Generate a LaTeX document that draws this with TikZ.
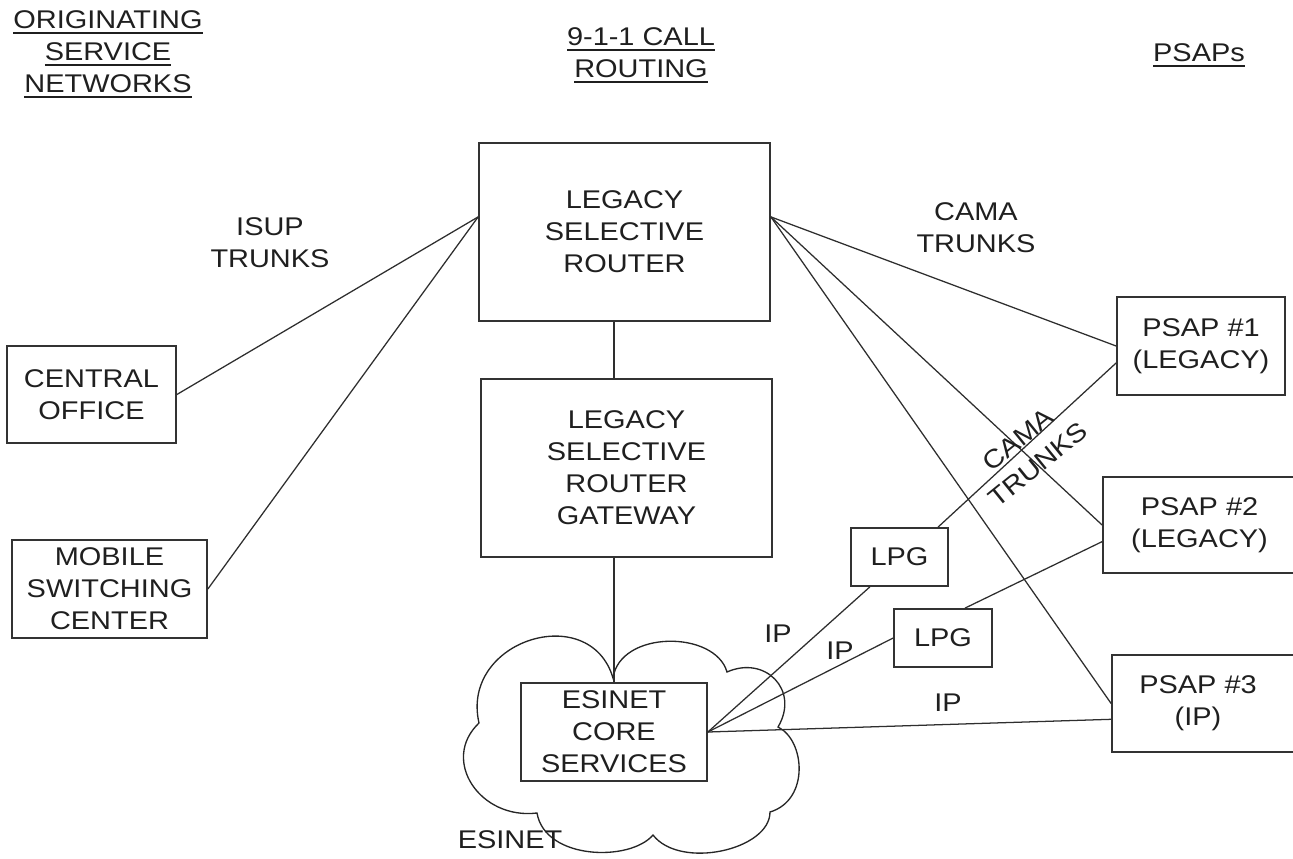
\documentclass[tikz,border=0pt]{standalone}
\usepackage{fontspec}
\setmainfont[FakeStretch=1.13]{Liberation Sans}
\usetikzlibrary{calc}
% underlined heading line with a heavier rule
\newcommand\ulined[1]{\leavevmode\setbox0\hbox{#1}\rlap{\rule[-3.9pt]{\wd0}{1.6pt}}\box0}
\begin{document}
\begin{tikzpicture}[x=0.75pt, y=-0.75pt,
  font=\fontsize{19.2}{24}\selectfont,
  boxnode/.style={draw=black!80, line width=1.3pt, inner sep=0pt, align=center, text=black!88},
  dims/.style 2 args={minimum width=#1*0.75pt, minimum height=#2*0.75pt},
  lbl/.style={align=center, inner sep=0pt, text=black!88},
  link/.style={draw=black!82, line width=0.95pt},
  cloudline/.style={draw=black!85, line width=1pt}]
\useasboundingbox (0,0) rectangle (1293,858);

% ESInet cloud
\draw[cloudline] (479,723) .. controls (460,640) and (590,600) .. (613,678)
  .. controls (620,630) and (715,630) .. (727,672)
  .. controls (765,655) and (800,690) .. (778,727)
  .. controls (805,740) and (810,800) .. (770,812)
  .. controls (770,850) and (680,870) .. (653,835)
  .. controls (630,862) and (545,860) .. (537,813)
  .. controls (480,820) and (440,760) .. (479,723) -- cycle;

% column headings
\node[lbl] (hOrig) at (108,54.3) {\ulined{ORIGINATING}\\\ulined{SERVICE}\\\ulined{NETWORKS}};
\node[lbl] (hRoute) at (641,55.5) {\ulined{9-1-1 CALL}\\\ulined{ROUTING}};
\node[lbl] (hPsap) at (1199,55.5) {\ulined{PSAPs}};

% boxes
\node[boxnode, dims={291}{178}] (router) at (624.5,232) {LEGACY\\SELECTIVE\\ROUTER};
\node[boxnode, dims={291}{178}] (gw) at (626.5,468) {LEGACY\\SELECTIVE\\ROUTER\\GATEWAY};
\node[boxnode, dims={186}{98}] (core) at (614,732) {ESINET\\CORE\\SERVICES};
\node[boxnode, dims={169}{97}] (co) at (91.5,394.5) {CENTRAL\\OFFICE};
\node[boxnode, dims={195}{98}] (msc) at (109.5,589) {MOBILE\\SWITCHING\\CENTER};
\node[boxnode, dims={168}{98}] (psap1) at (1201,346) {PSAP \#1\\(LEGACY)};
\node[boxnode, dims={193}{96}] (psap2) at (1199.5,525) {PSAP \#2\\(LEGACY)};
\node[boxnode, dims={184}{97}] (psap3) at (1204,703.5) {};
\node[lbl] (psap3text) at (1198,703.5) {PSAP \#3\\(IP)};
\node[boxnode, dims={97}{58}] (lpg1) at (899.5,557) {LPG};
\node[boxnode, dims={98}{58}] (lpg2) at (943,638) {LPG};

% connection points
\coordinate (rW) at ($(router.north west)!0.416!(router.south west)$);
\coordinate (rE) at ($(router.north east)!0.416!(router.south east)$);
\coordinate (p1low) at ($(psap1.north west)!0.67!(psap1.south west)$);
\coordinate (p2low) at ($(psap2.north west)!0.67!(psap2.south west)$);
\coordinate (p3low) at ($(psap3.north west)!0.66!(psap3.south west)$);
\coordinate (l1top) at ($(lpg1.north west)!0.89!(lpg1.north east)$);
\coordinate (l1bot) at ($(lpg1.south west)!0.2!(lpg1.south east)$);
\coordinate (l2top) at ($(lpg2.north west)!0.72!(lpg2.north east)$);

% ISUP trunks
\draw[link] (rW) -- (co.east);
\draw[link] (rW) -- (msc.east);
% CAMA trunks
\draw[link] (rE) -- (psap1.west);
\draw[link] (rE) -- (psap2.west);
\draw[link] (rE) -- (psap3.west);
\draw[link] (p1low) -- (l1top);
\draw[link] (p2low) -- (l2top);
% router chain
\draw[link] (core.north |- router.south) -- (core.north |- gw.north);
\draw[link] (core.north |- gw.south) -- (core.north);
% IP links
\draw[link] (core.east) -- (l1bot);
\draw[link] (core.east) -- (lpg2.west);
\draw[link] (core.east) -- (p3low);

% link labels
\node[lbl] (lIsup) at (270,243) {ISUP\\TRUNKS};
\node[lbl] (lCama) at (976,228) {CAMA\\TRUNKS};
\node[lbl, rotate=39] (lCama2) at (1028,452) {CAMA\\TRUNKS};
\node[lbl] (lIp1) at (778,634) {IP};
\node[lbl] (lIp2) at (840,651) {IP};
\node[lbl] (lIp3) at (948,703) {IP};
\node[lbl] (lEsinet) at (510,840) {ESINET};
\end{tikzpicture}
\end{document}
